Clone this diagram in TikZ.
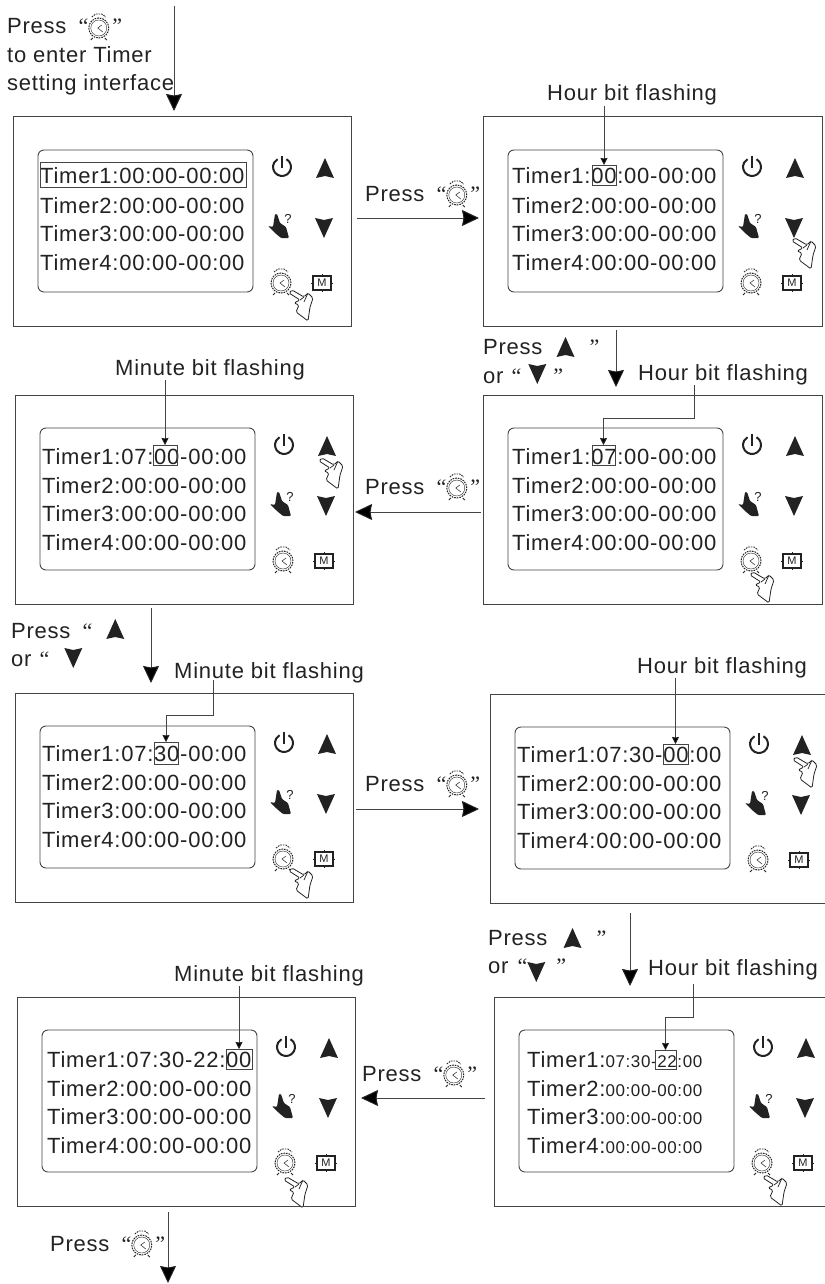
\documentclass[tikz,border=0pt]{standalone}
\usepackage{fontspec}
\setmainfont{Liberation Sans}[LetterSpace=3.5,Ligatures=NoCommon]
\newfontfamily\quotefont{Liberation Serif}
\usetikzlibrary{positioning,arrows.meta}

\definecolor{ink}{HTML}{222222}
\definecolor{linegray}{HTML}{444444}

\newcommand{\lquo}{{\quotefont “}}
\newcommand{\rquo}{{\quotefont ”}}
\newcommand{\rowfont}{\fontsize{22}{26}\selectfont}
\newcommand{\labelfont}{\fontsize{22}{26}\selectfont}
\newcommand{\smalldigits}{\fontsize{17}{20}\selectfont}
\newcommand{\alarmglyph}{\tikz[baseline=-7pt,x=1pt,y=-1pt]{\pic {alarmicon};}}
\newcommand{\upglyph}{\tikz[baseline=-7pt,x=1pt,y=-1pt]{\pic {upicon};}}
\newcommand{\downglyph}{\tikz[baseline=-7pt,x=1pt,y=-1pt]{\pic {downicon};}}

\tikzset{
  panel/.style={draw=linegray,line width=1pt,minimum height=209pt,anchor=north west,inner sep=0pt,outer sep=0pt},
  screen/.style={draw=linegray,line width=0.9pt,rounded corners=6pt,minimum width=215pt,minimum height=142pt,anchor=north west,inner sep=0pt,outer sep=0pt},
  timerline/.style={anchor=base west,inner sep=0pt,text=ink,font=\rowfont,yshift=-1pt},
  flashlabel/.style={anchor=base west,inner sep=0pt,text=ink,font=\labelfont,yshift=-1pt},
  markbox/.style={draw=linegray,line width=0.9pt,minimum width=24pt,minimum height=20pt,inner sep=0pt,outer sep=0pt},
  flowarrow/.style={draw=linegray,line width=1pt,-{Stealth[length=17pt,width=16pt,inset=1.5pt,color=ink]}},
  markarrow/.style={draw=linegray,line width=0.9pt,-{Stealth[length=7pt,width=7pt,inset=0.5pt,color=ink]}},
  powericon/.pic={
    \draw [ink,line width=2pt] (0,0) ++(60:9pt) arc[start angle=60,end angle=-240,radius=9pt];
    \draw [ink,line width=2pt] (0,-11) -- (0,1);
  },
  upicon/.pic={\fill [ink] (-9,10) -- (0,-10) -- (9,10) -- (0,8) -- cycle;},
  downicon/.pic={\fill [ink] (-9,-10) -- (0,-8) -- (9,-10) -- (0,10) -- cycle;},
  helpicon/.pic={
    \fill [ink,rounded corners=1pt] (-3,-11) -- (-1,-11) -- (2,-2) -- (8,2) -- (11,13) -- (3,13) -- (-3,8) -- (-10,1) -- (-5,2) -- cycle;
    \node [inner sep=0pt,text=ink,font=\fontsize{13}{13}\selectfont] (q) at (10,-6) {?};
  },
  alarmicon/.pic={
    \draw [ink,line width=1pt,dash pattern=on 1.6pt off 1pt] (0,1) circle[radius=10pt];
    \draw [ink,line width=0.4pt] (0,1) circle[radius=8pt];
    \draw [ink,line width=0.5pt] (3,-2) -- (-1,1) -- (4,5);
    \draw [ink,line width=0.9pt,dash pattern=on 1.6pt off 1pt] (-7,-10) -- (-3,-13) -- (3,-13) -- (7,-10);
    \draw [ink,line width=0.8pt] (-6,11) -- (-8,13) (6,11) -- (8,13);
  },
  menuicon/.pic={
    \draw [ink,line width=2pt] (-9,-7) rectangle (9,7);
    \draw [ink,line width=0.8pt] (-11,0) -- (-9,0) (9,0) -- (11,0) (0,-9) -- (0,-7) (0,7) -- (0,9);
    \node [inner sep=0pt,text=ink,font=\fontsize{11}{11}\selectfont] (m) at (0,0) {M};
  },
  handicon/.pic={
    \draw [ink,fill=white,line width=0.8pt,rounded corners=1.5pt] (0,0) -- (12,7) -- (16,3) -- (21,8) -- (18,17) -- (16,31) -- (4,22) -- (7,15) -- (2,13) -- (8,10) -- (-3,3) -- cycle;
    \draw [ink,line width=0.7pt] (12,7) -- (8,10) (16,3) -- (12,12);
  }
}

% panel: width, id, x, y, hand offset x, hand offset y
\newcommand{\panelbox}[6][338]{
  \node [panel,minimum width=#1pt] (panel#2) at (#3,#4) {};
  \node [screen] (screen#2) at (#3+25,#4+33) {};
  \pic at (#3+269,#4+50) {powericon};
  \pic at (#3+312,#4+51) {upicon};
  \pic at (#3+265,#4+108) {helpicon};
  \pic at (#3+311,#4+111) {downicon};
  \pic at (#3+268,#4+165) {alarmicon};
  \pic at (#3+309,#4+166) {menuicon};
  \pic at (#3+#5,#4+#6) {handicon};
}
% rows: id, text x, panel y, first row
\newcommand{\timerrows}[4]{
  \node [timerline] (row#11) at (#2,#3+66) {#4};
  \foreach \n/\rowy in {2/95,3/123,4/152}
    \node [timerline] (row#1\n) at (#2,#3+\rowy) {Timer\n:00:00-00:00};
}

\begin{document}
\begin{tikzpicture}[x=1pt,y=-1pt]
\useasboundingbox (0,0) rectangle (824,1284);

\panelbox{1}{13}{117}{279}{173}
\panelbox[339]{2}{483}{117}{312}{121}
\panelbox{3}{15}{395}{307}{63}
\panelbox[339]{4}{483}{395}{270}{177}
\panelbox{5}{15}{693}{277}{175}
\panelbox[345]{6}{490}{694}{306}{63}
\panelbox{7}{17}{997}{270}{180}
\panelbox[345]{8}{494}{997}{272}{178}

\timerrows{1}{40}{117}{Timer1:00:00-00:00}
\timerrows{2}{512}{117}{Timer1:00:00-00:00}
\timerrows{3}{42}{397}{Timer1:07:00-00:00}
\timerrows{4}{512}{397}{Timer1:07:00-00:00}
\timerrows{5}{42}{694}{Timer1:07:30-00:00}
\timerrows{6}{517}{695}{Timer1:07:30-00:00}
\timerrows{7}{47}{1000}{Timer1:07:30-22:00}
\node [timerline] (row81) at (527,1066) {Timer1:{\smalldigits 07:30-22:00}};
\node [timerline] (row82) at (527,1095) {Timer2:{\smalldigits 00:00-00:00}};
\node [timerline] (row83) at (527,1123) {Timer3:{\smalldigits 00:00-00:00}};
\node [timerline] (row84) at (527,1152) {Timer4:{\smalldigits 00:00-00:00}};

\node [markbox,minimum width=206pt,minimum height=25pt] (mark1) at (143,174.5) {};
\node [markbox] (mark2) at (604,175) {};
\node [markbox] (mark3) at (165,455) {};
\node [markbox,minimum width=23pt] (mark4) at (603.5,455) {};
\node [markbox,minimum height=22pt] (mark5) at (166,753) {};
\node [markbox,minimum width=25pt] (mark6) at (675.5,754) {};
\node [markbox,minimum width=26pt] (mark7) at (239,1059) {};
\node [markbox,minimum width=21pt,minimum height=19pt] (mark8) at (665.5,1059.5) {};

\node [flashlabel] (label2) at (547,100) {Hour bit flashing};
\node [flashlabel] (label3) at (115,374) {Minute bit flashing};
\node [flashlabel] (label4) at (638,379) {Hour bit flashing};
\node [flashlabel] (label5) at (174,677) {Minute bit flashing};
\node [flashlabel] (label6) at (637,672) {Hour bit flashing};
\node [flashlabel] (label7) at (174,980) {Minute bit flashing};
\node [flashlabel] (label8) at (648,974) {Hour bit flashing};

\node [flashlabel] (enter1) at (7,33) {Press\hspace{12pt}\lquo\alarmglyph\hspace{3pt}\rquo};
\node [flashlabel] (enter2) at (7,62) {to enter Timer};
\node [flashlabel] (enter3) at (7,90) {setting interface};
\node [flashlabel] (press1) at (365,200) {Press\hspace{12pt}\lquo\alarmglyph\hspace{3pt}\rquo};
\node [flashlabel] (press2) at (365,493) {Press\hspace{12pt}\lquo\alarmglyph\hspace{3pt}\rquo};
\node [flashlabel] (press3) at (365,790) {Press\hspace{12pt}\lquo\alarmglyph\hspace{3pt}\rquo};
\node [flashlabel] (press4) at (362,1080) {Press\hspace{12pt}\lquo\alarmglyph\hspace{3pt}\rquo};
\node [flashlabel] (press5) at (50,1250) {Press\hspace{12pt}\lquo\alarmglyph\hspace{3pt}\rquo};

\node [flashlabel] (setup1) at (483,353) {Press\hspace{14pt}\upglyph\hspace{15pt}\rquo};
\node [flashlabel] (setup2) at (483,382) {or\hspace{8pt}\lquo\hspace{7pt}\raisebox{2pt}{\downglyph}\hspace{7pt}\rquo};
\node [flashlabel] (setup3) at (11,637) {Press\hspace{12pt}\lquo\hspace{14pt}\raisebox{2pt}{\upglyph}};
\node [flashlabel] (setup4) at (11,665) {or\hspace{8pt}\lquo\hspace{15pt}\raisebox{1pt}{\downglyph}};
\node [flashlabel] (setup5) at (488,944) {Press\hspace{16pt}\upglyph\hspace{15pt}\rquo};
\node [flashlabel] (setup6) at (488,972) {or\hspace{9pt}\lquo\raisebox{-6pt}{\downglyph}\hspace{11pt}\rquo};

\coordinate (entry) at (174,6);
\coordinate (exit) at (168,1283);
\draw [flowarrow] (entry) -- ([shift={(161,-6)}]panel1.north west);
\draw [flowarrow] ([shift={(6,-3.5)}]panel1.east) -- ([shift={(-4,-3.5)}]panel2.west);
\draw [flowarrow] ([shift={(133,4)}]panel2.south west) -- ([shift={(133,-8)}]panel4.north west);
\draw [flowarrow] ([shift={(-2,12.5)}]panel4.west) -- ([shift={(2,12.5)}]panel3.east);
\draw [flowarrow] ([shift={(136,4)}]panel3.south west) -- ([shift={(136,-10)}]panel5.north west);
\draw [flowarrow] ([shift={(3,11.5)}]panel5.east) -- ([shift={(-11,10.5)}]panel6.west);
\draw [flowarrow] ([shift={(140,10)}]panel6.south west) -- ([shift={(136,-11)}]panel8.north west);
\draw [flowarrow] ([shift={(-9,-3.5)}]panel8.west) -- ([shift={(6,-3.5)}]panel7.east);
\draw [flowarrow] ([shift={(151,6)}]panel7.south west) -- (exit);

\draw [markarrow] (label2.south -| mark2.north) -- (mark2.north);
\draw [markarrow] (label3.south -| mark3.north) -- (mark3.north);
\draw [markarrow] ([xshift=-29pt]label4.south) |- ([yshift=27pt]mark4.north) -- (mark4.north);
\draw [markarrow] ([xshift=-56pt,yshift=3pt]label5.south) |- ([yshift=27pt]mark5.north) -- (mark5.north);
\draw [markarrow] (label6.south -| mark6.north) -- (mark6.north);
\draw [markarrow] (label7.south -| mark7.north) -- (mark7.north);
\draw [markarrow] ([xshift=-40pt,yshift=-4pt]label8.south) |- ([yshift=33pt]mark8.north) -- (mark8.north);
\end{tikzpicture}
\end{document}
